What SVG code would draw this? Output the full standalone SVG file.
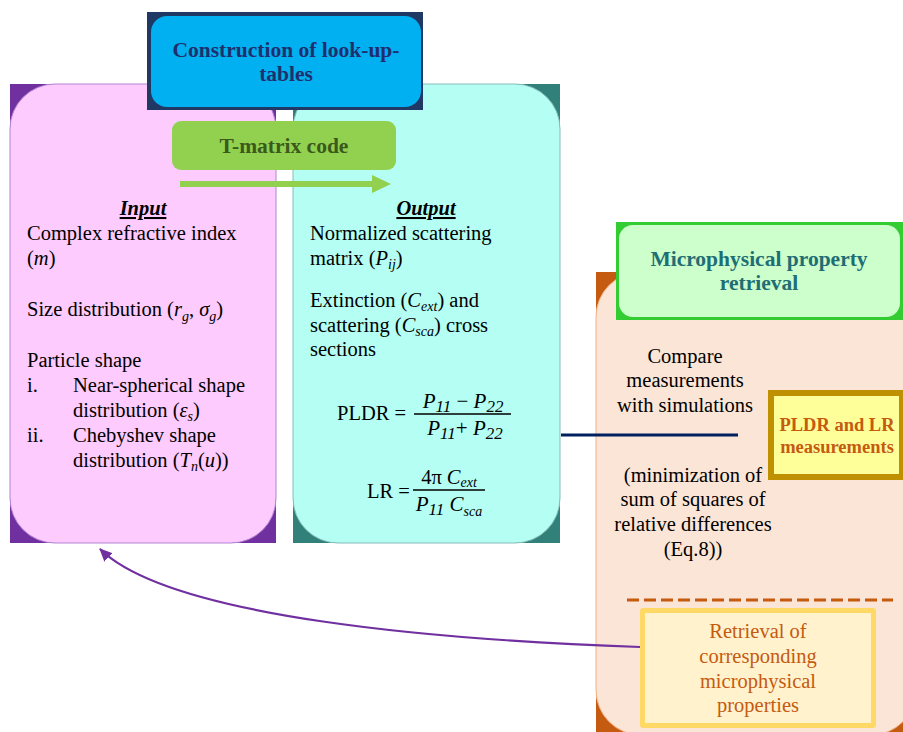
<svg xmlns="http://www.w3.org/2000/svg" width="903" height="732" viewBox="0 0 903 732">
<defs>
<style>
text{font-family:"Liberation Serif","Times New Roman",serif;}
.b{font-size:20.5px;fill:#000;}
.it{font-style:italic;}
.sub{font-size:14px;font-style:italic;}
.c{text-anchor:middle;}
.hd{font-size:20.5px;font-weight:bold;font-style:italic;text-decoration:underline;text-anchor:middle;}
.f{font-size:21px;font-style:italic;}
.fs{font-size:17px;font-style:italic;}
</style>
<marker id="ap" markerWidth="14" markerHeight="12" refX="12" refY="6" orient="auto" markerUnits="userSpaceOnUse">
<path d="M0,0 L13,6 L0,12 z" fill="#7030A0"/>
</marker>
</defs>
<rect width="903" height="732" fill="#fff"/>

<g id="input-box">
<rect x="10" y="84" width="266" height="459" fill="#7030A0"/>
<rect x="10" y="84" width="266" height="459" rx="45" fill="#FDCBFD" stroke="#B283D2" stroke-width="1"/>
<text class="hd" x="143" y="215">Input</text>
<text class="b" x="27" y="240">Complex refractive index</text>
<text class="b" x="27" y="265">(<tspan class="it">m</tspan>)</text>
<text class="b" x="27" y="316">Size distribution (<tspan class="it">r</tspan><tspan class="sub" dy="5">g</tspan><tspan dy="-5">, </tspan><tspan class="it">σ</tspan><tspan class="sub" dy="5">g</tspan><tspan dy="-5">)</tspan></text>
<text class="b" x="27" y="367">Particle shape</text>
<text class="b" x="27" y="392">i.</text>
<text class="b" x="73" y="392">Near-spherical shape</text>
<text class="b" x="73" y="417">distribution (<tspan class="it">ε</tspan><tspan class="sub" dy="4">s</tspan><tspan dy="-4">)</tspan></text>
<text class="b" x="27" y="442">ii.</text>
<text class="b" x="73" y="442">Chebyshev shape</text>
<text class="b" x="73" y="467">distribution (<tspan class="it">T</tspan><tspan class="sub" dy="4">n</tspan><tspan dy="-4">(</tspan><tspan class="it">u</tspan>))</text>
</g>

<g id="output-box">
<rect x="293" y="84" width="267" height="459" fill="#31807A"/>
<rect x="293" y="84" width="267" height="459" rx="45" fill="#B5FEF3" stroke="#86BDBA" stroke-width="1"/>
<text class="hd" x="426" y="215">Output</text>
<text class="b" x="310" y="240">Normalized scattering</text>
<text class="b" x="310" y="265">matrix (<tspan class="it">P</tspan><tspan class="sub" dy="4">ij</tspan><tspan dy="-4">)</tspan></text>
<text class="b" x="310" y="307">Extinction (<tspan class="it">C</tspan><tspan class="sub" dy="4">ext</tspan><tspan dy="-4">) and</tspan></text>
<text class="b" x="310" y="332">scattering (<tspan class="it">C</tspan><tspan class="sub" dy="4">sca</tspan><tspan dy="-4">) cross</tspan></text>
<text class="b" x="310" y="356">sections</text>
<text class="b" x="337" y="420">PLDR =</text>
<text class="c" x="463" y="408"><tspan class="f">P</tspan><tspan class="fs" dy="4">11</tspan><tspan dy="-4" font-size="21"> − </tspan><tspan class="f">P</tspan><tspan class="fs" dy="4">22</tspan></text>
<line x1="414" y1="414" x2="511" y2="414" stroke="#000" stroke-width="1.5"/>
<text class="c" x="465" y="435"><tspan class="f">P</tspan><tspan class="fs" dy="4">11</tspan><tspan dy="-4" font-size="21">+ </tspan><tspan class="f">P</tspan><tspan class="fs" dy="4">22</tspan></text>
<text class="b" x="367" y="498">LR =</text>
<text class="c" x="449" y="484" font-size="20.5">4π <tspan class="it">C</tspan><tspan class="sub" dy="3">ext</tspan></text>
<line x1="413" y1="490" x2="485" y2="490" stroke="#000" stroke-width="1.5"/>
<text class="c" x="449" y="511"><tspan class="f">P</tspan><tspan class="fs" dy="4">11</tspan><tspan dy="-4" font-size="21"> </tspan><tspan class="f">C</tspan><tspan class="sub" dy="5">sca</tspan></text>
</g>

<g id="retrieval-panel">
<rect x="596" y="272" width="320" height="463" fill="#C55A11"/>
<rect x="596" y="272" width="320" height="463" rx="45" fill="#FBE5D6" stroke="#F4B183" stroke-width="1"/>
<text class="b c" x="685" y="363">Compare</text>
<text class="b c" x="685" y="387">measurements</text>
<text class="b c" x="685" y="412">with simulations</text>
<text class="b c" x="693" y="482">(minimization of</text>
<text class="b c" x="693" y="506">sum of squares of</text>
<text class="b c" x="693" y="531">relative differences</text>
<text class="b c" x="693" y="556">(Eq.8))</text>
<line x1="627" y1="600" x2="893" y2="600" stroke="#C55A11" stroke-width="3" stroke-dasharray="12,5"/>
</g>

<g id="title-box">
<rect x="147" y="12" width="276" height="98" fill="#203864"/>
<rect x="151" y="16" width="270" height="91" rx="16" fill="#00B0F0"/>
<text x="286" y="57" font-size="21.5" font-weight="bold" fill="#1F2F6E" text-anchor="middle">Construction of look-up-</text>
<text x="286" y="81" font-size="21.5" font-weight="bold" fill="#1F2F6E" text-anchor="middle">tables</text>
</g>

<g id="tmatrix-box">
<rect x="172" y="121" width="224" height="49" rx="9" fill="#92D050"/>
<text x="284" y="153" font-size="21.5" font-weight="bold" fill="#3A5A1C" text-anchor="middle">T-matrix code</text>
</g>

<g id="microphysical-box">
<rect x="616" y="222" width="287" height="98" fill="#33CC33"/>
<rect x="619" y="225" width="281" height="92" rx="14" fill="#CCFFCC"/>
<text x="759" y="266" font-size="21.5" font-weight="bold" fill="#1F6E74" text-anchor="middle">Microphysical property</text>
<text x="759" y="290" font-size="21.5" font-weight="bold" fill="#1F6E74" text-anchor="middle">retrieval</text>
</g>

<g id="measurements-box">
<rect x="768" y="390" width="135" height="90" fill="#BF9000"/>
<rect x="774" y="396" width="125" height="78" fill="#FFFF99"/>
<text x="837" y="431" font-size="18.5" font-weight="bold" fill="#C55A11" text-anchor="middle">PLDR and LR</text>
<text x="837" y="453" font-size="18.5" font-weight="bold" fill="#C55A11" text-anchor="middle">measurements</text>
</g>

<g id="result-box">
<rect x="640" y="608" width="236" height="120" rx="3" fill="#FFD966"/>
<rect x="645" y="613" width="226" height="110" fill="#FFF2CC"/>
<text class="c" x="758" y="638" font-size="20.5" fill="#C55A11">Retrieval of</text>
<text class="c" x="758" y="663" font-size="20.5" fill="#C55A11">corresponding</text>
<text class="c" x="758" y="688" font-size="20.5" fill="#C55A11">microphysical</text>
<text class="c" x="758" y="712" font-size="20.5" fill="#C55A11">properties</text>
</g>

<g id="connectors">
<line x1="180" y1="184" x2="374" y2="184" stroke="#92D050" stroke-width="6"/>
<polygon points="372,175 391,184 372,193" fill="#92D050"/>
<line x1="561" y1="435" x2="738" y2="435" stroke="#002060" stroke-width="3"/>
<path d="M640,647 C440,640 170,618 100,549" fill="none" stroke="#7030A0" stroke-width="2.2" marker-end="url(#ap)"/>
</g>
</svg>
